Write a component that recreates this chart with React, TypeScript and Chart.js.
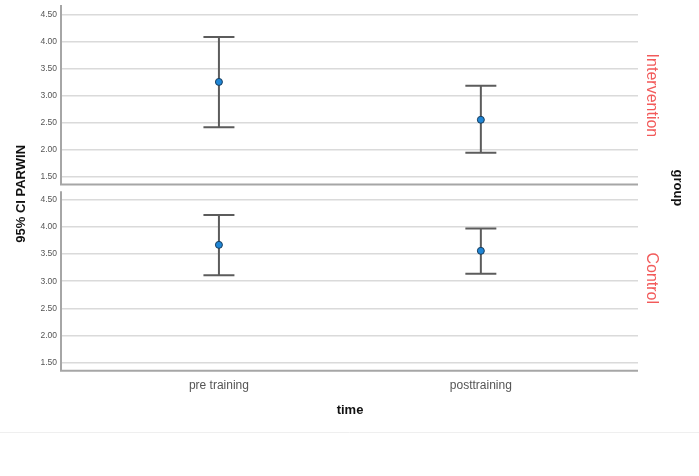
import React, { useEffect, useRef } from 'react';
import { Chart, registerables } from 'chart.js';

Chart.register(...registerables);

const categories = ['pre training', 'posttraining'];
const groups = ['Intervention', 'Control'];
const interventionMean = [3.25, 2.55];
const interventionLower = [2.41, 1.94];
const interventionUpper = [4.08, 3.18];
const controlMean = [3.67, 3.56];
const controlLower = [3.11, 3.14];
const controlUpper = [4.22, 3.97];
const yTickValues = [1.5, 2.0, 2.5, 3.0, 3.5, 4.0, 4.5];
const yTitle = '95% CI PARWIN';
const xTitle = 'time';
const groupTitle = 'group';

const FONT = '"Liberation Sans", Arial, sans-serif';

function makePoints(mean: number[], lo: number[], hi: number[]) {
  return mean.map((m, i) => ({ x: i, y: m, lo: lo[i], hi: hi[i] }));
}

const errorBarPlugin = {
  id: 'errorBars',
  beforeDatasetsDraw(chart: any) {
    const ctx = chart.ctx;
    const xs = chart.scales.x;
    ctx.save();
    chart.data.datasets.forEach((ds: any) => {
      const ys = chart.scales[ds.yAxisID];
      ds.data.forEach((p: any) => {
        const x = xs.getPixelForValue(p.x);
        const yl = ys.getPixelForValue(p.lo);
        const yh = ys.getPixelForValue(p.hi);
        ctx.strokeStyle = '#5c5c5c';
        ctx.lineWidth = 2;
        ctx.beginPath();
        ctx.moveTo(x, yl);
        ctx.lineTo(x, yh);
        ctx.moveTo(x - 15.5, yl);
        ctx.lineTo(x + 15.5, yl);
        ctx.moveTo(x - 15.5, yh);
        ctx.lineTo(x + 15.5, yh);
        ctx.stroke();
      });
    });
    ctx.restore();
  },
};

const framePlugin = {
  id: 'frame',
  beforeDatasetsDraw(chart: any) {
    const ctx = chart.ctx;
    const { left, right } = chart.chartArea;
    const yt = chart.scales.yTop;
    const yb = chart.scales.yBot;
    const topBottom = yt.bottom - 3.3;
    const botTop = yb.top + 3.4;
    ctx.save();
    ctx.strokeStyle = '#a6a6a6';
    ctx.lineWidth = 2;
    ctx.beginPath();
    ctx.moveTo(left, yt.top);
    ctx.lineTo(left, topBottom);
    ctx.lineTo(right, topBottom);
    ctx.moveTo(left, botTop);
    ctx.lineTo(left, yb.bottom);
    ctx.lineTo(right, yb.bottom);
    ctx.stroke();
    ctx.restore();
  },
  afterDraw(chart: any) {
    const ctx = chart.ctx;
    const { right } = chart.chartArea;
    const yt = chart.scales.yTop;
    const yb = chart.scales.yBot;
    const xs = chart.scales.x;
    ctx.save();
    // y title
    ctx.fillStyle = '#111';
    ctx.font = `bold 13px ${FONT}`;
    ctx.textAlign = 'center';
    ctx.textBaseline = 'middle';
    ctx.save();
    ctx.translate(21, (yt.top + yb.bottom) / 2 + 6);
    ctx.rotate(-Math.PI / 2);
    ctx.fillText(yTitle, 0, 0);
    ctx.restore();
    // group labels
    ctx.fillStyle = '#f25a5a';
    ctx.font = `16px ${FONT}`;
    const panels = [yt, yb];
    groups.forEach((g, i) => {
      const s = panels[i];
      ctx.save();
      ctx.translate(right + 13.5, (s.top + s.bottom) / 2 - 1);
      ctx.rotate(Math.PI / 2);
      ctx.fillText(g, 0, 0);
      ctx.restore();
    });
    // group title
    ctx.fillStyle = '#111';
    ctx.font = `bold 13px ${FONT}`;
    ctx.save();
    ctx.translate(right + 40, (yt.top + yb.bottom) / 2);
    ctx.rotate(Math.PI / 2);
    ctx.fillText(groupTitle, 0, 0);
    ctx.restore();
    // x title
    ctx.fillText(xTitle, (chart.chartArea.left + right) / 2 + 0.5, xs.top + 40);
    // faint bottom line
    ctx.strokeStyle = '#efefef';
    ctx.lineWidth = 1;
    ctx.beginPath();
    ctx.moveTo(0, 432.5);
    ctx.lineTo(chart.width, 432.5);
    ctx.stroke();
    ctx.restore();
  },
};

function yScale(min: number, max: number) {
  return {
    type: 'linear',
    position: 'left',
    stack: 'panels',
    stackWeight: 1,
    min,
    max,
    afterBuildTicks: (scale: any) => {
      scale.ticks = yTickValues.map((v) => ({ value: v }));
    },
    afterFit: (scale: any) => {
      scale.width = 61;
      scale.paddingTop = 0;
      scale.paddingBottom = 0;
    },
    border: { display: false },
    grid: { color: '#dadada', lineWidth: 1.6, drawTicks: false },
    ticks: {
      padding: 4,
      color: '#555',
      font: { family: FONT, size: 8.5 },
      callback: (v: any) => Number(v).toFixed(2),
    },
  };
}

export default function App() {
  const ref = useRef<HTMLCanvasElement>(null);
  useEffect(() => {
    if (!ref.current) return;
    const chart = new Chart(ref.current, {
      type: 'scatter',
      data: {
        datasets: [
          {
            label: groups[0],
            yAxisID: 'yTop',
            data: makePoints(interventionMean, interventionLower, interventionUpper) as any,
            pointRadius: 3.5,
            backgroundColor: '#1f86d6',
            borderColor: '#1b3d5c',
            borderWidth: 1,
          },
          {
            label: groups[1],
            yAxisID: 'yBot',
            data: makePoints(controlMean, controlLower, controlUpper) as any,
            pointRadius: 3.5,
            backgroundColor: '#1f86d6',
            borderColor: '#1b3d5c',
            borderWidth: 1,
          },
        ],
      },
      options: {
        responsive: false,
        animation: false,
        layout: { padding: { left: 0, right: 61, top: 4, bottom: 0 } },
        plugins: { legend: { display: false }, tooltip: { enabled: false } },
        scales: {
          x: {
            type: 'linear',
            position: 'bottom',
            min: -0.603,
            max: 1.6,
            afterBuildTicks: (scale: any) => {
              scale.ticks = categories.map((_, i) => ({ value: i }));
            },
            afterFit: (scale: any) => {
              scale.height = 105.3;
              scale.paddingLeft = 0;
              scale.paddingRight = 0;
            },
            border: { display: false },
            grid: { display: false, drawTicks: false },
            ticks: {
              padding: 8,
              color: '#555',
              font: { family: FONT, size: 12 },
              maxRotation: 0,
              callback: (v: any) => categories[Number(v)] ?? '',
            },
          },
          yBot: yScale(1.353, 4.72) as any,
          yTop: yScale(1.292, 4.672) as any,
        },
      },
      plugins: [framePlugin, errorBarPlugin],
    });
    return () => chart.destroy();
  }, []);
  return (
    <div style={{ position: 'fixed', left: 0, top: 0, width: 699, height: 476, background: '#fff' }}>
      <canvas ref={ref} width={699} height={476} style={{ display: 'block' }} />
    </div>
  );
}
